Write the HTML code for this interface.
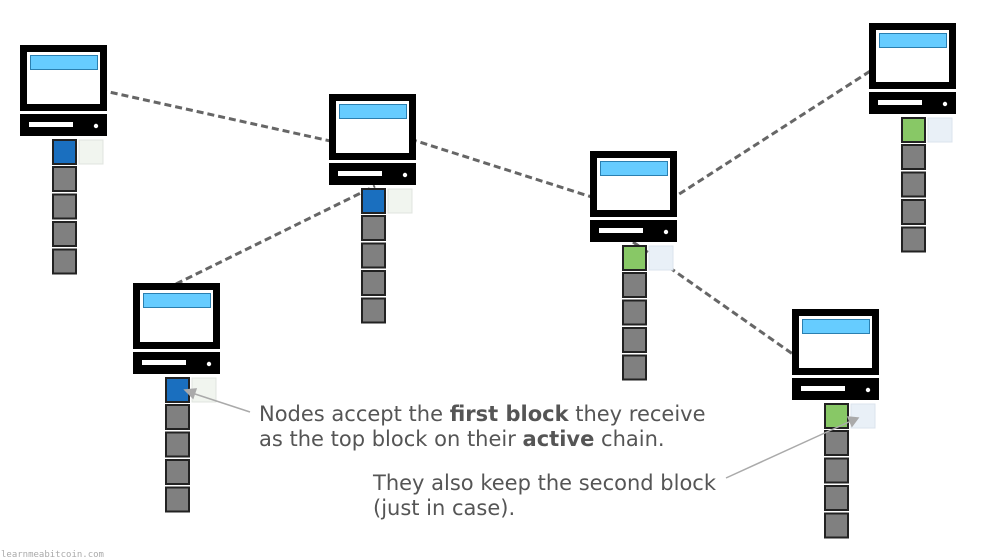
<!DOCTYPE html>
<html><head><meta charset="utf-8"><style>
html,body{margin:0;padding:0;background:#fff;}
svg{display:block;}
text{font-family:"DejaVu Sans","Liberation Sans",sans-serif;}
</style></head><body>
<svg width="983" height="559" viewBox="0 0 983 559" xmlns="http://www.w3.org/2000/svg">
<defs>
<g id="pc">
  <rect x="0" y="0" width="87" height="66" fill="#000"/>
  <rect x="7" y="7" width="73" height="52" fill="#fff"/>
  <rect x="10.5" y="10.5" width="67" height="14" fill="#66ccff" stroke="#2a7fb0" stroke-width="1"/>
  <rect x="0" y="69" width="87" height="22" fill="#000"/>
  <rect x="9" y="77" width="44" height="5" fill="#fff"/>
  <circle cx="76" cy="81" r="2.2" fill="#fff"/>
  <rect x="33" y="122" width="23" height="24" fill="#808080" stroke="#222" stroke-width="2"/>
  <rect x="33" y="149.5" width="23" height="24" fill="#808080" stroke="#222" stroke-width="2"/>
  <rect x="33" y="177" width="23" height="24" fill="#808080" stroke="#222" stroke-width="2"/>
  <rect x="33" y="204.5" width="23" height="24" fill="#808080" stroke="#222" stroke-width="2"/>
</g>
<g id="blueTop">
  <rect x="33" y="95" width="23" height="24" fill="#1a6fbf" stroke="#222" stroke-width="2"/>
  <rect x="59" y="95" width="24" height="24" fill="#f1f5ef" stroke="#e0e4df" stroke-width="1"/>
</g>
<g id="greenTop">
  <rect x="33" y="95" width="23" height="24" fill="#88c866" stroke="#222" stroke-width="2"/>
  <rect x="59" y="95" width="24" height="24" fill="#e9f0f7" stroke="#dbe3ec" stroke-width="1"/>
</g>
</defs>
<g stroke="#666" stroke-width="3" stroke-dasharray="7,4" fill="none">
  <line x1="100" y1="90" x2="335" y2="142"/>
  <line x1="410" y1="139" x2="598" y2="199"/>
  <line x1="670" y1="200" x2="875" y2="68"/>
  <line x1="176" y1="284" x2="375" y2="186"/>
  <line x1="633" y1="242" x2="797" y2="357"/>
</g>
<use href="#pc" x="20" y="45"/><use href="#blueTop" x="20" y="45"/>
<use href="#pc" x="329" y="94"/><use href="#blueTop" x="329" y="94"/>
<use href="#pc" x="133" y="283"/><use href="#blueTop" x="133" y="283"/>
<use href="#pc" x="590" y="151"/><use href="#greenTop" x="590" y="151"/>
<use href="#pc" x="869" y="23"/><use href="#greenTop" x="869" y="23"/>
<use href="#pc" x="792" y="309"/><use href="#greenTop" x="792" y="309"/>
<g stroke="#aaa" stroke-width="1.5" fill="#aaa">
  <line x1="250" y1="412" x2="192" y2="393"/>
  <polygon points="185,390 196,389 193,398"/>
  <line x1="726" y1="478" x2="851" y2="421"/>
  <polygon points="858,418 848,417 852,426"/>
</g>
<g fill="#555" font-size="21">
  <text x="259" y="421">Nodes accept the <tspan font-weight="bold">first block</tspan> they receive</text>
  <text x="259" y="446">as the top block on their <tspan font-weight="bold">active</tspan> chain.</text>
  <text x="373" y="490">They also keep the second block</text>
  <text x="373" y="515">(just in case).</text>
</g>
<text x="1" y="557" font-size="9" fill="#aaa" style="font-family:'DejaVu Sans Mono','Liberation Mono',monospace">learnmeabitcoin.com</text>
</svg>
</body></html>
